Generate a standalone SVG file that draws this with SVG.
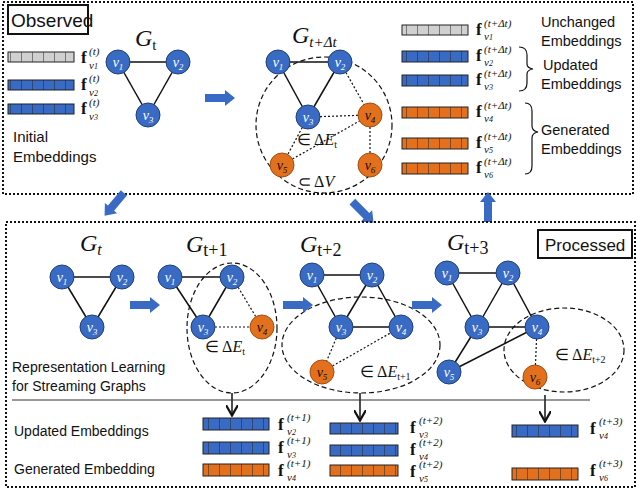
<svg xmlns="http://www.w3.org/2000/svg" width="640" height="491" viewBox="0 0 640 491">
<defs>
<style>
text{font-family:"Liberation Sans",Arial,sans-serif;fill:#111}
.box{fill:none;stroke:#111;stroke-width:2;stroke-dasharray:2 2}
.lab{fill:#fff;stroke:#111;stroke-width:2}
.b{fill:#3a6bc4;stroke:#1f3f7a;stroke-width:1}
.o{fill:#e2701c;stroke:#a84c0d;stroke-width:1}
.nl{font-family:"Liberation Serif",serif;font-style:italic;fill:#fff;font-size:14px;text-anchor:middle}
.nk{fill:#111}
.e{stroke:#111;stroke-width:1.5}
.d{stroke:#111;stroke-width:1.2;stroke-dasharray:2 2}
.dsh{fill:none;stroke:#111;stroke-width:1.2;stroke-dasharray:5 3}
.math{font-family:"Liberation Serif",serif;font-size:16px}
.gl{font-family:"Liberation Serif",serif;font-style:italic;font-size:24px}
.f{font-family:"Liberation Serif",serif;font-weight:bold;font-size:17px}
.sp{font-family:"Liberation Serif",serif;font-style:italic;font-size:11px}
.sb{font-family:"Liberation Serif",serif;font-style:italic;font-size:11px}
.blue{fill:#3a6bc4}.gray{fill:#d0d0d0}.orange{fill:#e2701c}
.bar{stroke:#222;stroke-width:1}
</style>
<pattern id="cells" width="11" height="12" patternUnits="userSpaceOnUse"><path d="M11 0V12" stroke="#222" stroke-width="1"/></pattern>
<marker id="ah" markerWidth="8" markerHeight="8" refX="6" refY="4" orient="auto"><path d="M0 0L7 4L0 8" fill="none" stroke="#111" stroke-width="1.5"/></marker>
<symbol id="arr" viewBox="0 0 30 16" overflow="visible"><path d="M0 4H20V0L30 8L20 16V12H0Z" fill="#3a6bc4"/></symbol>
</defs>

<g id="observed">
<rect class="box" x="3" y="2" width="630" height="192"/>
<rect class="lab" x="8" y="5" width="80" height="29"/>
<text x="11" y="27" font-size="19">Observed</text>
</g>

<g id="init-emb">
<rect class="gray bar" x="8" y="52" width="66" height="10"/><rect x="8" y="52" width="66" height="10" fill="url(#cells)"/>
<rect class="blue bar" x="8" y="80" width="66" height="10"/><rect x="8" y="80" width="66" height="10" fill="url(#cells)"/>
<rect class="blue bar" x="8" y="104" width="66" height="10"/><rect x="8" y="104" width="66" height="10" fill="url(#cells)"/>
<text class="f" x="81" y="63">f</text><text class="sp" x="89" y="55">(t)</text><text class="sb" x="89" y="69">v<tspan font-size="8">1</tspan></text>
<text class="f" x="81" y="90">f</text><text class="sp" x="89" y="82">(t)</text><text class="sb" x="89" y="96">v<tspan font-size="8">2</tspan></text>
<text class="f" x="81" y="114">f</text><text class="sp" x="89" y="106">(t)</text><text class="sb" x="89" y="120">v<tspan font-size="8">3</tspan></text>
<text x="13" y="142" font-size="15">Initial</text>
<text x="13" y="162" font-size="15">Embeddings</text>
</g>

<g id="connectors">
<line class="e" x1="118" y1="62" x2="178" y2="62"/><line class="e" x1="118" y1="62" x2="148" y2="115"/><line class="e" x1="178" y1="62" x2="148" y2="115"/>
<line class="e" x1="278" y1="62" x2="340" y2="62"/><line class="e" x1="278" y1="62" x2="308" y2="117"/><line class="e" x1="340" y1="62" x2="308" y2="117"/>
<line class="d" x1="340" y1="62" x2="370" y2="115"/><line class="d" x1="308" y1="117" x2="370" y2="115"/><line class="d" x1="308" y1="117" x2="282" y2="165"/><line class="d" x1="282" y1="165" x2="370" y2="115"/><line class="d" x1="370" y1="115" x2="370" y2="165"/>
<circle class="dsh" cx="324" cy="125" r="68"/>
<line class="e" x1="62" y1="277" x2="122" y2="277"/><line class="e" x1="62" y1="277" x2="92" y2="327"/><line class="e" x1="122" y1="277" x2="92" y2="327"/>
<line class="e" x1="170" y1="277" x2="232" y2="277"/><line class="e" x1="170" y1="277" x2="203" y2="327"/><line class="e" x1="232" y1="277" x2="203" y2="327"/>
<line class="d" x1="232" y1="277" x2="262" y2="327"/><line class="d" x1="203" y1="327" x2="262" y2="327"/>
<ellipse class="dsh" cx="232" cy="328" rx="45" ry="65"/>
<line class="e" x1="312" y1="275" x2="372" y2="275"/><line class="e" x1="312" y1="275" x2="341" y2="327"/><line class="e" x1="372" y1="275" x2="341" y2="327"/><line class="e" x1="372" y1="275" x2="401" y2="327"/><line class="e" x1="341" y1="327" x2="401" y2="327"/>
<line class="d" x1="341" y1="327" x2="322" y2="372"/><line class="d" x1="322" y1="372" x2="401" y2="327"/>
<ellipse class="dsh" cx="361" cy="345" rx="79" ry="48"/>
<line class="e" x1="447" y1="273" x2="508" y2="273"/><line class="e" x1="447" y1="273" x2="477" y2="327"/><line class="e" x1="508" y1="273" x2="477" y2="327"/><line class="e" x1="508" y1="273" x2="537" y2="327"/><line class="e" x1="477" y1="327" x2="537" y2="327"/><line class="e" x1="477" y1="327" x2="449" y2="372"/><line class="e" x1="449" y1="372" x2="537" y2="327"/>
<line class="d" x1="537" y1="327" x2="535" y2="377"/>
<ellipse class="dsh" cx="564" cy="350" rx="60" ry="42"/>
<line class="e" x1="232" y1="393" x2="232" y2="414" marker-end="url(#ah)"/>
<line class="e" x1="360" y1="393" x2="360" y2="419" marker-end="url(#ah)"/>
<line class="e" x1="545" y1="395" x2="545" y2="420" marker-end="url(#ah)"/>
<line stroke="#333" stroke-width="1.2" x1="12" y1="400" x2="590" y2="400"/>
<use href="#arr" x="205" y="90" width="30" height="16"/>
<use href="#arr" x="130" y="297" width="30" height="16"/>
<use href="#arr" x="283" y="297" width="30" height="16"/>
<use href="#arr" x="412" y="297" width="30" height="16"/>
<use href="#arr" x="0" y="0" width="30" height="16" transform="translate(130,198) rotate(130)"/>
<use href="#arr" x="0" y="0" width="30" height="16" transform="translate(358,196) rotate(45)"/>
<use href="#arr" x="0" y="0" width="30" height="16" transform="translate(480,222) rotate(-90)"/>
</g>

<g id="Gt-top">
<text class="gl" x="135" y="46">G<tspan font-size="15" dy="4" font-style="normal">t</tspan></text>
<circle class="b" cx="118" cy="62" r="12"/><text class="nl" x="118" y="67">v<tspan font-size="9" dy="3">1</tspan></text>
<circle class="b" cx="178" cy="62" r="12"/><text class="nl" x="178" y="67">v<tspan font-size="9" dy="3">2</tspan></text>
<circle class="b" cx="148" cy="115" r="12"/><text class="nl" x="148" y="120">v<tspan font-size="9" dy="3">3</tspan></text>
</g>

<g id="Gtdt-top">
<text class="gl" x="292" y="43">G<tspan font-size="15" dy="4">t+Δt</tspan></text>
<circle class="b" cx="278" cy="62" r="12"/><text class="nl" x="278" y="67">v<tspan font-size="9" dy="3">1</tspan></text>
<circle class="b" cx="340" cy="62" r="12"/><text class="nl" x="340" y="67">v<tspan font-size="9" dy="3">2</tspan></text>
<circle class="b" cx="308" cy="117" r="12"/><text class="nl" x="308" y="122">v<tspan font-size="9" dy="3">3</tspan></text>
<circle class="o" cx="370" cy="115" r="12"/><text class="nl nk" x="370" y="120" style="fill:#111">v<tspan font-size="9" dy="3">4</tspan></text>
<circle class="o" cx="282" cy="165" r="12"/><text class="nl" x="282" y="170" style="fill:#111">v<tspan font-size="9" dy="3">5</tspan></text>
<circle class="o" cx="370" cy="165" r="12"/><text class="nl" x="370" y="170" style="fill:#111">v<tspan font-size="9" dy="3">6</tspan></text>
<text class="math" x="297" y="145">∈ Δ<tspan font-style="italic">E</tspan><tspan font-size="10" dy="3">t</tspan></text>
<text class="math" x="298" y="187">⊂ Δ<tspan font-style="italic">V</tspan></text>
</g>

<g id="new-emb">
<rect class="gray bar" x="402" y="25" width="66" height="10"/><rect x="402" y="25" width="66" height="10" fill="url(#cells)"/>
<rect class="blue bar" x="402" y="51" width="66" height="11"/><rect x="402" y="51" width="66" height="11" fill="url(#cells)"/>
<rect class="blue bar" x="402" y="75" width="66" height="11"/><rect x="402" y="75" width="66" height="11" fill="url(#cells)"/>
<rect class="orange bar" x="402" y="107" width="66" height="11"/><rect x="402" y="107" width="66" height="11" fill="url(#cells)"/>
<rect class="orange bar" x="402" y="138" width="66" height="11"/><rect x="402" y="138" width="66" height="11" fill="url(#cells)"/>
<rect class="orange bar" x="402" y="163" width="66" height="11"/><rect x="402" y="163" width="66" height="11" fill="url(#cells)"/>
<text class="f" x="476" y="35">f</text><text class="sp" x="484" y="27">(t+Δt)</text><text class="sb" x="484" y="40">v<tspan font-size="8">1</tspan></text>
<text class="f" x="476" y="61">f</text><text class="sp" x="484" y="53">(t+Δt)</text><text class="sb" x="484" y="66">v<tspan font-size="8">2</tspan></text>
<text class="f" x="476" y="85">f</text><text class="sp" x="484" y="77">(t+Δt)</text><text class="sb" x="484" y="90">v<tspan font-size="8">3</tspan></text>
<text class="f" x="476" y="117">f</text><text class="sp" x="484" y="109">(t+Δt)</text><text class="sb" x="484" y="122">v<tspan font-size="8">4</tspan></text>
<text class="f" x="476" y="148">f</text><text class="sp" x="484" y="140">(t+Δt)</text><text class="sb" x="484" y="153">v<tspan font-size="8">5</tspan></text>
<text class="f" x="476" y="173">f</text><text class="sp" x="484" y="165">(t+Δt)</text><text class="sb" x="484" y="178">v<tspan font-size="8">6</tspan></text>
<path d="M519 47Q527 47 527 55V64Q527 68 533 69Q527 70 527 74V83Q527 91 519 91" fill="none" stroke="#111" stroke-width="1.2"/>
<path d="M525 103Q532 103 532 111V126Q532 131 538 132Q532 133 532 138V166Q532 174 525 174" fill="none" stroke="#111" stroke-width="1.2"/>
<g font-size="14.5">
<text x="541" y="27">Unchanged</text><text x="541" y="46">Embeddings</text>
<text x="543" y="70">Updated</text><text x="541" y="89">Embeddings</text>
<text x="541" y="135">Generated</text><text x="541" y="154">Embeddings</text>
</g>
</g>

<g id="processed">
<rect class="box" x="6" y="222" width="629" height="265"/>
<rect class="lab" x="538" y="230" width="94" height="28"/>
<text x="545" y="251" font-size="17">Processed</text>
</g>

<g id="Gt-bottom">
<text class="gl" x="80" y="251">G<tspan font-size="16" dy="4">t</tspan></text>
<circle class="b" cx="62" cy="277" r="12"/><text class="nl" x="62" y="282">v<tspan font-size="9" dy="3">1</tspan></text>
<circle class="b" cx="122" cy="277" r="12"/><text class="nl" x="122" y="282">v<tspan font-size="9" dy="3">2</tspan></text>
<circle class="b" cx="92" cy="327" r="12"/><text class="nl" x="92" y="332">v<tspan font-size="9" dy="3">3</tspan></text>
</g>

<g id="Gt1">
<text class="gl" x="186" y="252">G<tspan font-size="18" dy="4" font-style="normal">t+1</tspan></text>
<circle class="b" cx="170" cy="277" r="12"/><text class="nl" x="170" y="282">v<tspan font-size="9" dy="3">1</tspan></text>
<circle class="b" cx="232" cy="277" r="12"/><text class="nl" x="232" y="282">v<tspan font-size="9" dy="3">2</tspan></text>
<circle class="b" cx="203" cy="327" r="12"/><text class="nl" x="203" y="332">v<tspan font-size="9" dy="3">3</tspan></text>
<circle class="o" cx="262" cy="327" r="12"/><text class="nl" x="262" y="332" style="fill:#111">v<tspan font-size="9" dy="3">4</tspan></text>
<text class="math" x="205" y="352">∈ Δ<tspan font-style="italic">E</tspan><tspan font-size="10" dy="3">t</tspan></text>
</g>

<g id="Gt2">
<text class="gl" x="300" y="252">G<tspan font-size="18" dy="4" font-style="normal">t+2</tspan></text>
<circle class="b" cx="312" cy="275" r="12"/><text class="nl" x="312" y="280">v<tspan font-size="9" dy="3">1</tspan></text>
<circle class="b" cx="372" cy="275" r="12"/><text class="nl" x="372" y="280">v<tspan font-size="9" dy="3">2</tspan></text>
<circle class="b" cx="341" cy="327" r="12"/><text class="nl" x="341" y="332">v<tspan font-size="9" dy="3">3</tspan></text>
<circle class="b" cx="401" cy="327" r="12"/><text class="nl" x="401" y="332">v<tspan font-size="9" dy="3">4</tspan></text>
<circle class="o" cx="322" cy="372" r="12"/><text class="nl" x="322" y="377" style="fill:#111">v<tspan font-size="9" dy="3">5</tspan></text>
<text class="math" x="360" y="377">∈ Δ<tspan font-style="italic">E</tspan><tspan font-size="10" dy="3">t+1</tspan></text>
</g>

<g id="Gt3">
<text class="gl" x="447" y="250">G<tspan font-size="18" dy="4" font-style="normal">t+3</tspan></text>
<circle class="b" cx="447" cy="273" r="12"/><text class="nl" x="447" y="278">v<tspan font-size="9" dy="3">1</tspan></text>
<circle class="b" cx="508" cy="273" r="12"/><text class="nl" x="508" y="278">v<tspan font-size="9" dy="3">2</tspan></text>
<circle class="b" cx="477" cy="327" r="12"/><text class="nl" x="477" y="332">v<tspan font-size="9" dy="3">3</tspan></text>
<circle class="b" cx="537" cy="327" r="12"/><text class="nl" x="537" y="332">v<tspan font-size="9" dy="3">4</tspan></text>
<circle class="b" cx="449" cy="372" r="12"/><text class="nl" x="449" y="377">v<tspan font-size="9" dy="3">5</tspan></text>
<circle class="o" cx="535" cy="377" r="12"/><text class="nl" x="535" y="382" style="fill:#111">v<tspan font-size="9" dy="3">6</tspan></text>
<text class="math" x="555" y="360">∈ Δ<tspan font-style="italic">E</tspan><tspan font-size="10" dy="3">t+2</tspan></text>
</g>

<g id="bottom-text">
<text x="12" y="372" font-size="14">Representation Learning</text>
<text x="12" y="391" font-size="14">for Streaming Graphs</text>
<text x="14" y="436" font-size="14">Updated Embeddings</text>
<text x="14" y="474" font-size="14">Generated Embedding</text>
</g>

<g id="bottom-emb">
<rect class="blue bar" x="203" y="418" width="66" height="12"/><rect x="203" y="418" width="66" height="12" fill="url(#cells)"/>
<rect class="blue bar" x="203" y="442" width="66" height="12"/><rect x="203" y="442" width="66" height="12" fill="url(#cells)"/>
<rect class="orange bar" x="203" y="464" width="66" height="12"/><rect x="203" y="464" width="66" height="12" fill="url(#cells)"/>
<rect class="blue bar" x="330" y="423" width="68" height="11"/><rect x="330" y="423" width="68" height="11" fill="url(#cells)"/>
<rect class="blue bar" x="330" y="445" width="68" height="11"/><rect x="330" y="445" width="68" height="11" fill="url(#cells)"/>
<rect class="orange bar" x="330" y="465" width="68" height="11"/><rect x="330" y="465" width="68" height="11" fill="url(#cells)"/>
<rect class="blue bar" x="512" y="425" width="66" height="12"/><rect x="512" y="425" width="66" height="12" fill="url(#cells)"/>
<rect class="orange bar" x="512" y="468" width="66" height="12"/><rect x="512" y="468" width="66" height="12" fill="url(#cells)"/>
<text class="f" x="278" y="430">f</text><text class="sp" x="287" y="421">(t+1)</text><text class="sb" x="287" y="435">v<tspan font-size="8">2</tspan></text>
<text class="f" x="278" y="453">f</text><text class="sp" x="287" y="444">(t+1)</text><text class="sb" x="287" y="458">v<tspan font-size="8">3</tspan></text>
<text class="f" x="278" y="476">f</text><text class="sp" x="287" y="467">(t+1)</text><text class="sb" x="287" y="481">v<tspan font-size="8">4</tspan></text>
<text class="f" x="410" y="433">f</text><text class="sp" x="419" y="424">(t+2)</text><text class="sb" x="419" y="438">v<tspan font-size="8">3</tspan></text>
<text class="f" x="410" y="455">f</text><text class="sp" x="419" y="446">(t+2)</text><text class="sb" x="419" y="460">v<tspan font-size="8">4</tspan></text>
<text class="f" x="410" y="477">f</text><text class="sp" x="419" y="468">(t+2)</text><text class="sb" x="419" y="482">v<tspan font-size="8">5</tspan></text>
<text class="f" x="590" y="434">f</text><text class="sp" x="599" y="425">(t+3)</text><text class="sb" x="599" y="439">v<tspan font-size="8">4</tspan></text>
<text class="f" x="590" y="476">f</text><text class="sp" x="599" y="467">(t+3)</text><text class="sb" x="599" y="481">v<tspan font-size="8">6</tspan></text>
</g>
</svg>
